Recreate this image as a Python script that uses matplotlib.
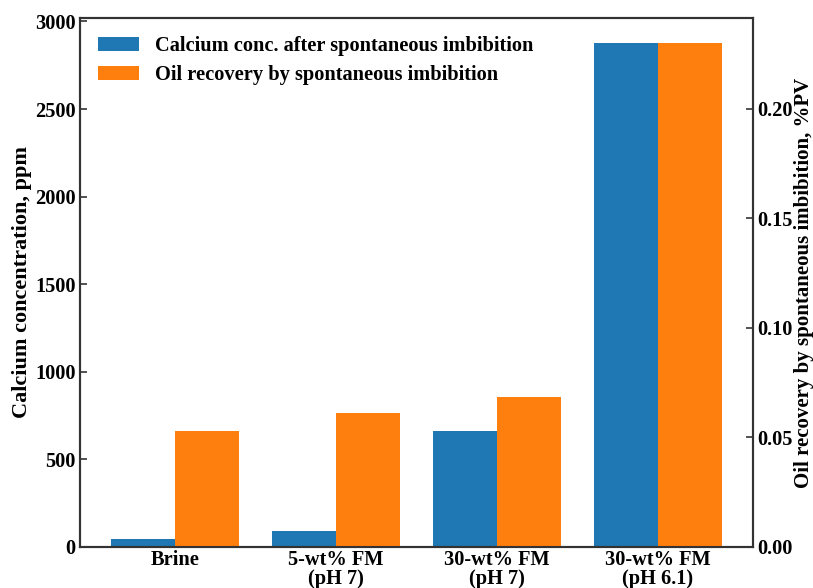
import matplotlib
matplotlib.use("Agg")
import matplotlib.pyplot as plt
import numpy as np

categories = ["Brine", "5-wt% FM\n(pH 7)", "30-wt% FM\n(pH 7)", "30-wt% FM\n(pH 6.1)"]
calcium_ppm = [48, 90, 662, 2876]
oil_recovery_pv = [0.053, 0.061, 0.0685, 0.230]

plt.rcParams["font.family"] = ["Liberation Serif", "DejaVu Serif"]
plt.rcParams["font.weight"] = "bold"
plt.rcParams["font.size"] = 14.7

fig = plt.figure(figsize=(8.13, 5.88), dpi=100)
ax1 = fig.add_axes([80 / 813, 41 / 588, 673 / 813, 529 / 588])
ax2 = ax1.twinx()

x = np.arange(len(categories))
w = 0.4
b1 = ax1.bar(x - w / 2, calcium_ppm, w, color="#1f77b4",
             label="Calcium conc. after spontaneous imbibition")
b2 = ax2.bar(x + w / 2, oil_recovery_pv, w, color="#ff7f0e",
             label="Oil recovery by spontaneous imbibition")

ax1.set_xticks(x)
ax1.set_xticklabels(categories, fontweight="bold", linespacing=0.95)
ax1.tick_params(axis="x", length=0, pad=2)
ax1.tick_params(axis="y", direction="in", length=5, width=1.2, color="#333333", pad=3)
ax2.tick_params(axis="y", direction="in", length=5, width=1.2, color="#333333", pad=3)

ax1.set_yticks([0, 500, 1000, 1500, 2000, 2500, 3000])
ax2.set_yticks([0.00, 0.05, 0.10, 0.15, 0.20])
ax2.yaxis.set_major_formatter(matplotlib.ticker.FormatStrFormatter("%.2f"))

ax1.set_ylabel("Calcium concentration, ppm", fontweight="bold", fontsize=16, labelpad=2)
ax2.set_ylabel("Oil recovery by spontaneous imbibition, %PV", fontweight="bold",
               fontsize=15, labelpad=1)

for ax in (ax1, ax2):
    for s in ax.spines.values():
        s.set_color("#333333")
        s.set_linewidth(1.5)

ax2.legend(handles=[b1, b2], loc="upper left", frameon=False,
           handlelength=2.0, handletextpad=0.75, labelspacing=0.42,
           prop={"weight": "bold", "size": 14.7})

fig.savefig("out.png", dpi=100)
